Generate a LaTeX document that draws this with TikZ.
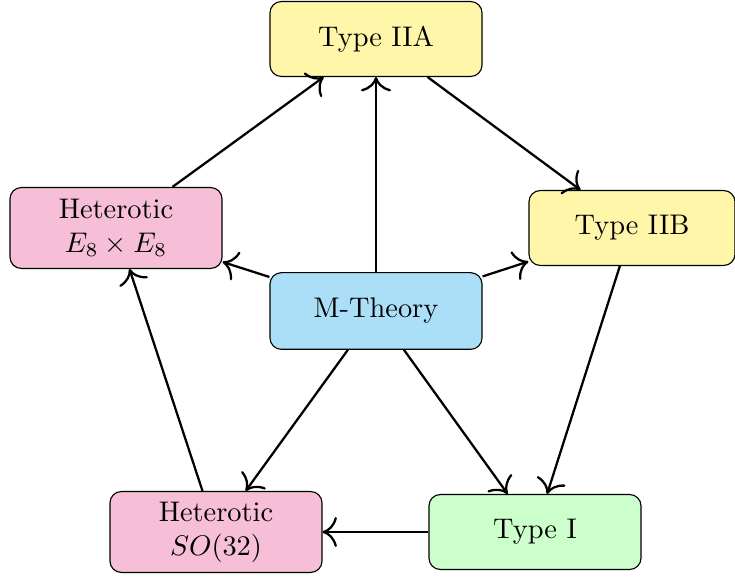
\documentclass[tikz,border=0pt]{standalone}
\usepackage{tikz}
\usetikzlibrary{arrows.meta}
\definecolor{cyel}{RGB}{255,246,169}
\definecolor{cpink}{RGB}{246,191,215}
\definecolor{cblue}{RGB}{171,223,248}
\definecolor{cgreen}{RGB}{204,255,204}
\tikzset{
  theory/.style={draw=black, rounded corners=4pt, align=center, inner sep=2pt, font=\normalsize},
  wide/.style={minimum width=74.7pt, minimum height=26.4pt},
  tall/.style={minimum width=74.7pt, minimum height=28.5pt},
  conn/.style={-{To[scale=1.5]}, thick}
}
\begin{document}
\begin{tikzpicture}[x=0.3523pt, y=-0.3523pt]
\useasboundingbox (0,0) rectangle (735,577);
\node[theory, wide, fill=cyel] (iia) at (376,39) {Type IIA};
\node[theory, wide, minimum width=72.6pt, fill=cyel] (iib) at (632,228) {Type IIB};
\node[theory, tall, fill=cpink] (e8) at (116,228) {Heterotic\\$E_8\times E_8$};
\node[theory, wide, minimum height=27pt, fill=cblue] (m) at (376,311) {M-Theory};
\node[theory, tall, fill=cpink] (so) at (216,532) {Heterotic\\$SO(32)$};
\node[theory, wide, fill=cgreen] (t1) at (535,532) {Type I};
\draw[conn] (e8) -- (iia);
\draw[conn] (m) -- (iia);
\draw[conn] (iia) -- (iib);
\draw[conn] (m) -- (e8);
\draw[conn] (m) -- (iib);
\draw[conn] (iib) -- (t1);
\draw[conn] (m) -- (so);
\draw[conn] (m) -- (t1);
\draw[conn] (t1) -- (so);
\draw[conn] (so) -- (e8);
\end{tikzpicture}
\end{document}
